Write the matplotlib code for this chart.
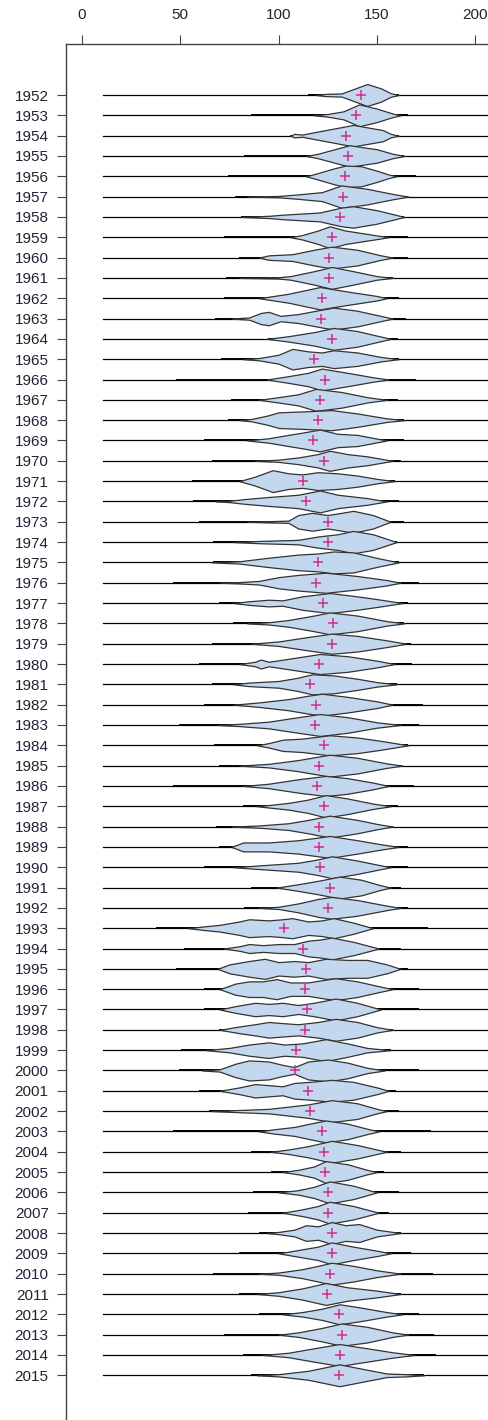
import numpy as np
import matplotlib.pyplot as plt

plt.rcParams['font.family'] = ['Liberation Sans', 'DejaVu Sans']

years = list(range(1952, 2016))

# mean of each year (pink cross)
means = [142, 139.4, 134.3, 135.5, 134, 132.6, 131.4, 127, 125.8, 125.4,
         122, 121.6, 127, 118.2, 123.8, 121.2, 119.9, 117.3, 123.3, 112.6,
         114, 125.3, 125.3, 120.2, 119, 122.8, 127.8, 127, 120.7, 116.1,
         119, 118.7, 123.3, 120.7, 119.7, 123.3, 120.7, 120.7, 121.2, 126.3,
         125.3, 102.9, 112.6, 114, 113.5, 114.3, 113.6, 108.8, 108.5, 115.1,
         116.1, 121.9, 123.3, 123.8, 125.3, 125.3, 127, 127.2, 126.3, 124.6,
         130.5, 132.2, 131.4, 130.9]

# range of the observations (thick black bean line)
data_lo = [114.8, 86, 106, 82.6, 74, 78, 80.9, 72.4, 80, 73,
           72.4, 67.6, 94.4, 70.7, 47.8, 75.8, 74.4, 62.2, 66, 56,
           56.3, 59.7, 66.4, 66.4, 46.1, 69.9, 76.6, 66, 59.7, 66,
           62.2, 49.5, 67.3, 69.9, 46.1, 81.7, 68.2, 69.9, 62.2, 86,
           82.6, 37.6, 52, 47.8, 62.2, 62.2, 69.9, 50.4, 49.5, 59.7,
           64.8, 46.5, 86, 96, 86.8, 84.3, 90.2, 80, 66.5, 80,
           90.2, 72.4, 81.7, 86]
data_hi = [161.4, 166, 161, 164, 170, 166, 164, 165.6, 165.6, 158,
           161.4, 164.8, 160.6, 161.4, 170, 160.6, 164, 164, 162.3, 159,
           161.4, 164, 160, 161.4, 171.6, 165.6, 164, 167.3, 168, 160,
           173.3, 171.6, 165.6, 163, 169, 160.6, 158, 165.6, 165.6, 162.3,
           165.6, 175.8, 162.3, 165.6, 171.6, 171.6, 158, 157.2, 171.6, 159.7,
           161.4, 177.5, 162.3, 153.8, 161.4, 156.3, 162.3, 167.3, 178.4, 162.3,
           171.6, 179.2, 180, 174.1]

# bean outline: (value, relative half width)
bean_profiles = [
    [(119, 0), (124, 0.05), (132, 0.07), (145, 0.49), (152, 0.3), (157, 0.08), (161, 0)],
    [(118, 0), (125, 0.06), (133, 0.18), (141, 0.49), (150, 0.3), (158, 0.08), (162, 0)],
    [(106, 0), (108, 0.08), (112, 0.05), (124, 0.25), (138, 0.48), (153, 0.25), (157, 0.08), (161, 0)],
    [(114, 0), (120, 0.1), (136, 0.48), (150, 0.3), (158, 0.1), (164, 0)],
    [(114, 0), (119, 0.12), (128, 0.35), (134, 0.48), (142, 0.45), (150, 0.25), (156, 0.08), (160, 0)],
    [(84, 0), (100, 0.03), (110, 0.1), (122, 0.2), (132, 0.5), (145, 0.35), (158, 0.12), (166, 0)],
    [(81, 0), (95, 0.05), (102, 0.1), (121, 0.2), (132, 0.42), (138, 0.48), (150, 0.3), (164, 0)],
    [(106, 0), (112, 0.1), (120, 0.3), (126, 0.49), (134, 0.3), (145, 0.15), (156, 0)],
    [(90, 0), (95, 0.1), (107, 0.15), (118, 0.35), (127, 0.49), (140, 0.35), (152, 0.1), (158, 0)],
    [(80, 0), (100, 0.03), (106, 0.08), (118, 0.3), (127, 0.49), (138, 0.3), (150, 0.08), (158, 0)],
    [(90, 0), (105, 0.2), (121, 0.5), (135, 0.3), (150, 0.1), (155, 0)],
    [(76, 0), (85, 0.05), (91, 0.25), (95, 0.3), (101, 0.12), (110, 0.2), (122, 0.4), (128, 0.49), (140, 0.35), (158, 0)],
    [(94, 0), (105, 0.12), (118, 0.3), (128, 0.49), (140, 0.35), (157, 0)],
    [(82, 0), (90, 0.05), (100, 0.2), (107, 0.46), (115, 0.35), (122, 0.3), (128, 0.4), (140, 0.3), (152, 0.1), (161, 0)],
    [(94, 0), (105, 0.15), (115, 0.3), (122, 0.49), (135, 0.3), (148, 0.1), (156, 0)],
    [(90, 0), (100, 0.12), (110, 0.25), (119, 0.49), (132, 0.35), (145, 0.12), (155, 0)],
    [(80, 0), (86, 0.05), (94, 0.2), (100, 0.35), (115, 0.4), (127, 0.45), (140, 0.3), (155, 0.08), (164, 0)],
    [(84, 0), (95, 0.1), (105, 0.25), (112, 0.35), (121, 0.49), (130, 0.3), (140, 0.25), (155, 0)],
    [(88, 0), (100, 0.05), (110, 0.15), (120, 0.3), (126, 0.45), (135, 0.3), (145, 0.2), (158, 0)],
    [(80, 0), (88, 0.2), (97, 0.49), (105, 0.35), (112, 0.3), (120, 0.4), (130, 0.35), (140, 0.25), (150, 0.1), (159, 0)],
    [(68, 0), (75, 0.03), (82, 0.1), (95, 0.2), (110, 0.3), (121, 0.49), (130, 0.3), (145, 0.15), (155, 0)],
    [(84, 0), (105, 0.05), (110, 0.3), (117, 0.4), (125, 0.3), (132, 0.4), (138, 0.49), (148, 0.3), (157, 0)],
    [(77, 0), (90, 0.05), (110, 0.1), (120, 0.25), (130, 0.35), (138, 0.5), (148, 0.35), (160, 0)],
    [(66, 0), (80, 0.05), (94, 0.2), (110, 0.35), (120, 0.4), (128, 0.49), (138, 0.45), (150, 0.2), (161, 0)],
    [(70, 0), (80, 0.03), (90, 0.08), (100, 0.25), (110, 0.35), (124, 0.45), (140, 0.3), (155, 0.12), (162, 0)],
    [(77, 0), (85, 0.08), (95, 0.15), (102, 0.12), (112, 0.3), (126, 0.45), (140, 0.3), (152, 0.15), (163, 0)],
    [(84, 0), (95, 0.05), (105, 0.15), (118, 0.35), (126, 0.49), (140, 0.35), (155, 0.1), (164, 0)],
    [(86, 0), (100, 0.1), (115, 0.3), (127, 0.45), (140, 0.35), (155, 0.15), (165, 0)],
    [(80, 0), (88, 0.1), (91, 0.2), (95, 0.1), (110, 0.3), (121, 0.45), (135, 0.35), (150, 0.15), (159, 0)],
    [(77, 0), (85, 0.08), (100, 0.15), (110, 0.3), (117, 0.45), (128, 0.4), (140, 0.25), (150, 0.1), (160, 0)],
    [(77, 0), (90, 0.1), (105, 0.25), (115, 0.4), (122, 0.49), (135, 0.35), (150, 0.15), (158, 0)],
    [(69, 0), (80, 0.05), (95, 0.15), (110, 0.35), (121, 0.49), (135, 0.35), (150, 0.12), (162, 0)],
    [(89, 0), (95, 0.1), (102, 0.25), (112, 0.3), (126, 0.45), (140, 0.35), (152, 0.2), (166, 0)],
    [(80, 0), (95, 0.08), (110, 0.25), (126, 0.49), (140, 0.35), (155, 0.1), (163, 0)],
    [(82, 0), (95, 0.1), (110, 0.3), (124, 0.45), (135, 0.35), (148, 0.15), (156, 0)],
    [(89, 0), (105, 0.15), (115, 0.3), (124, 0.5), (135, 0.35), (148, 0.12), (157, 0)],
    [(76, 0), (90, 0.05), (105, 0.15), (115, 0.3), (126, 0.49), (140, 0.3), (150, 0.12), (158, 0)],
    [(76, 0), (82, 0.2), (95, 0.2), (110, 0.3), (126, 0.49), (140, 0.3), (152, 0.12), (161, 0)],
    [(77, 0), (90, 0.08), (110, 0.2), (120, 0.35), (127, 0.49), (140, 0.3), (150, 0.12), (157, 0)],
    [(99, 0), (110, 0.15), (120, 0.3), (131, 0.49), (142, 0.35), (152, 0.1), (157, 0)],
    [(90, 0), (100, 0.05), (110, 0.2), (120, 0.4), (127, 0.49), (140, 0.35), (155, 0.1), (162, 0)],
    [(54, 0), (62, 0.08), (70, 0.15), (80, 0.3), (85, 0.4), (95, 0.35), (102, 0.4), (107, 0.45), (115, 0.3), (122, 0.35), (128, 0.45), (138, 0.25), (148, 0)],
    [(72, 0), (80, 0.1), (85, 0.2), (92, 0.15), (100, 0.2), (108, 0.2), (115, 0.35), (121, 0.4), (127, 0.49), (138, 0.3), (151, 0)],
    [(69, 0), (75, 0.2), (85, 0.35), (93, 0.45), (100, 0.3), (108, 0.35), (115, 0.3), (124, 0.45), (135, 0.4), (145, 0.4), (155, 0.2), (162, 0)],
    [(70, 0), (78, 0.25), (85, 0.35), (92, 0.35), (99, 0.45), (106, 0.3), (115, 0.3), (122, 0.4), (129, 0.49), (140, 0.35), (150, 0.15), (158, 0)],
    [(70, 0), (78, 0.15), (88, 0.3), (95, 0.25), (102, 0.3), (110, 0.2), (118, 0.3), (129, 0.49), (140, 0.3), (152, 0)],
    [(70, 0), (80, 0.15), (88, 0.25), (95, 0.35), (102, 0.3), (110, 0.25), (120, 0.35), (129, 0.49), (140, 0.35), (150, 0.12), (158, 0)],
    [(63, 0), (75, 0.1), (85, 0.25), (95, 0.35), (103, 0.25), (112, 0.3), (124, 0.49), (135, 0.3), (145, 0.1), (157, 0)],
    [(61, 0), (70, 0.05), (78, 0.3), (85, 0.45), (95, 0.4), (102, 0.25), (108, 0.15), (115, 0.4), (125, 0.49), (135, 0.35), (145, 0.12), (154, 0)],
    [(70, 0), (80, 0.15), (88, 0.3), (95, 0.25), (102, 0.2), (108, 0.35), (116, 0.4), (127, 0.49), (138, 0.4), (150, 0.15), (156, 0)],
    [(66, 0), (80, 0.05), (95, 0.1), (105, 0.2), (115, 0.3), (127, 0.49), (140, 0.35), (150, 0.1), (155, 0)],
    [(90, 0), (98, 0.1), (108, 0.2), (116, 0.35), (124, 0.49), (135, 0.35), (145, 0.12), (151, 0)],
    [(96, 0), (105, 0.1), (115, 0.25), (127, 0.49), (140, 0.3), (150, 0.1), (155, 0)],
    [(102, 0), (110, 0.1), (118, 0.25), (124, 0.49), (135, 0.35), (145, 0.1), (150, 0)],
    [(100, 0), (110, 0.1), (118, 0.25), (126, 0.49), (138, 0.3), (150, 0)],
    [(102, 0), (112, 0.15), (120, 0.3), (126, 0.49), (138, 0.3), (151, 0)],
    [(94, 0), (100, 0.05), (108, 0.15), (114, 0.35), (120, 0.3), (127, 0.49), (134, 0.35), (141, 0.4), (150, 0.15), (162, 0)],
    [(100, 0), (110, 0.15), (120, 0.3), (127, 0.49), (138, 0.3), (150, 0.12), (157, 0)],
    [(90, 0), (100, 0.05), (112, 0.2), (120, 0.35), (127, 0.49), (138, 0.35), (150, 0.15), (162, 0)],
    [(89, 0), (100, 0.08), (112, 0.25), (124, 0.49), (135, 0.3), (150, 0.15), (162, 0)],
    [(102, 0), (112, 0.1), (122, 0.25), (131, 0.45), (142, 0.3), (155, 0.1), (163, 0)],
    [(100, 0), (110, 0.1), (122, 0.3), (132, 0.5), (145, 0.35), (158, 0.1), (166, 0)],
    [(92, 0), (105, 0.1), (118, 0.3), (131, 0.49), (145, 0.3), (158, 0.12), (169, 0)],
    [(89, 0), (100, 0.05), (115, 0.2), (131, 0.49), (142, 0.3), (155, 0.08), (165, 0.05), (174, 0)],
]

line_start = 10.7
width_scale = 1.1  # bean half width, in rows, for a relative width of 1

fig = plt.figure(figsize=(4.89, 14.2), dpi=100)
ax = fig.add_axes([66 / 489, 0, 1 - 66 / 489, 1 - 44 / 1420])

for i, yr in enumerate(years):
    ax.plot([line_start, 230], [i, i], color='black', lw=0.9, zorder=1)
    ax.plot([data_lo[i], data_hi[i]], [i, i], color='black', lw=1.4, zorder=2,
            solid_capstyle='butt')
    xs = np.array([p[0] for p in bean_profiles[i]])
    ws = np.array([p[1] for p in bean_profiles[i]]) * width_scale
    ax.fill_between(xs, i - ws, i + ws, facecolor='#c3d8ee', edgecolor='#333333',
                    linewidth=0.9, zorder=3)
    ax.plot(means[i], i, marker='+', color='#d02e8a', markersize=7, mew=1.1,
            zorder=4)

ax.set_xlim(-8.14, 207)
ax.set_ylim(65.2, -2.51)
ax.set_xticks([0, 50, 100, 150, 200])
ax.set_yticks(range(len(years)))
ax.set_yticklabels([str(y) for y in years])
ax.xaxis.tick_top()
ax.tick_params(axis='x', length=6.5, pad=9, labelsize=11, color='#444444',
               labelcolor='#222233')
ax.tick_params(axis='y', length=6.5, pad=6, labelsize=11, color='#444444',
               labelcolor='#222233')
for s in ['right', 'bottom']:
    ax.spines[s].set_visible(False)
for s in ['left', 'top']:
    ax.spines[s].set_color('#444444')
    ax.spines[s].set_linewidth(1)

fig.savefig('out.png', dpi=100)
